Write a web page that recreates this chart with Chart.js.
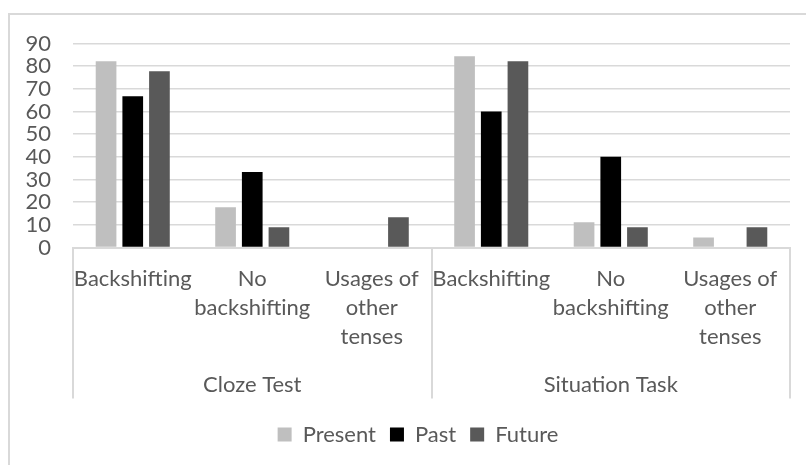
<!DOCTYPE html>
<html>
<head>
<meta charset="utf-8">
<script src="https://cdn.jsdelivr.net/npm/chart.js@4.4.1/dist/chart.umd.min.js"></script>
<style>
  html, body { margin: 0; padding: 0; background: #fff; overflow: hidden; }
  #wrap { position: relative; width: 806px; height: 465px; }
  #frame { position: absolute; left: 8px; top: 13px; width: 900px; height: 600px;
           border: 2px solid #d9d9d9; box-sizing: border-box; }
  canvas { position: absolute; left: 0; top: 0; }
</style>
</head>
<body>
<div id="wrap">
  <div id="frame"></div>
  <canvas id="chart" width="806" height="465"></canvas>
</div>
<script>
// Outer grouping of the category axis
const groups = ['Cloze Test', 'Situation Task'];
// Inner categories (multi-line labels), three per group
const categories = [
  ['Backshifting'], ['No', 'backshifting'], ['Usages of', 'other', 'tenses'],
  ['Backshifting'], ['No', 'backshifting'], ['Usages of', 'other', 'tenses']
];
// Percentages per tense
const present = [82.2, 17.8, 0, 84.4, 11.1, 4.4];
const past    = [66.7, 33.3, 0, 60.0, 40.0, 0];
const future  = [77.8, 8.9, 13.3, 82.2, 8.9, 8.9];
// Value axis ticks
const yTicks = [0, 10, 20, 30, 40, 50, 60, 70, 80, 90];

const FONT = 'Lato, "Open Sans", sans-serif';
const TEXT = '#595959';
const LINE = '#d9d9d9';

// Vertical separators between the outer groups, below the plot area
const groupSeparators = {
  id: 'groupSeparators',
  afterDraw(chart) {
    const x = chart.scales.x;
    const ctx = chart.ctx;
    const per = categories.length / groups.length;
    const top = chart.chartArea.bottom;
    ctx.save();
    ctx.strokeStyle = LINE;
    ctx.lineWidth = 2;
    for (let g = 0; g <= groups.length; g++) {
      const px = Math.round(x.getPixelForValue(g * per - 0.5));
      ctx.beginPath();
      ctx.moveTo(px, top);
      ctx.lineTo(px, top + 151);
      ctx.stroke();
    }
    ctx.restore();
  }
};

// Centre the legend within the outer frame rather than the full canvas
const legendCentre = {
  id: 'legendCentre',
  afterLayout(chart) {
    if (chart.legend) chart.legend.left = 46;
  }
};

new Chart(document.getElementById('chart'), {
  type: 'bar',
  data: {
    labels: categories,
    datasets: [
      { label: 'Present', data: present, backgroundColor: '#bfbfbf' },
      { label: 'Past',    data: past,    backgroundColor: '#000000' },
      { label: 'Future',  data: future,  backgroundColor: '#595959' }
    ]
  },
  options: {
    responsive: false,
    animation: false,
    devicePixelRatio: 1,
    categoryPercentage: 0.67,
    barPercentage: 0.775,
    layout: { padding: { top: 43.5, right: 16, bottom: 9.5, left: 0 } },
    plugins: {
      tooltip: { enabled: false },
      legend: {
        position: 'bottom',
        labels: {
          boxWidth: 14, boxHeight: 14, padding: 14,
          color: TEXT, font: { family: FONT, size: 22 }
        }
      }
    },
    scales: {
      y: {
        min: 0, max: 90,
        afterBuildTicks(scale) { scale.ticks = yTicks.map(v => ({ value: v })); },
        afterFit(scale) { scale.width = 73; },
        border: { display: false },
        grid: { color: LINE, lineWidth: 1.5, drawTicks: false },
        ticks: { color: TEXT, padding: 22, autoSkip: false, font: { family: FONT, size: 22 } }
      },
      x: {
        afterFit(scale) { scale.height = 102; },
        border: { display: true, color: LINE, width: 2 },
        grid: { display: false },
        ticks: {
          color: TEXT, padding: 8.5, maxRotation: 0, minRotation: 0, autoSkip: false,
          font: { family: FONT, size: 22, lineHeight: 1.32 }
        }
      },
      x2: {
        type: 'category',
        position: 'bottom',
        labels: groups,
        offset: true,
        afterFit(scale) { scale.height = 60; },
        border: { display: false },
        grid: { display: false },
        ticks: {
          color: TEXT, padding: 12.5, maxRotation: 0, autoSkip: false,
          font: { family: FONT, size: 22, lineHeight: 1.32 }
        }
      }
    }
  },
  plugins: [groupSeparators, legendCentre]
});
</script>
</body>
</html>
